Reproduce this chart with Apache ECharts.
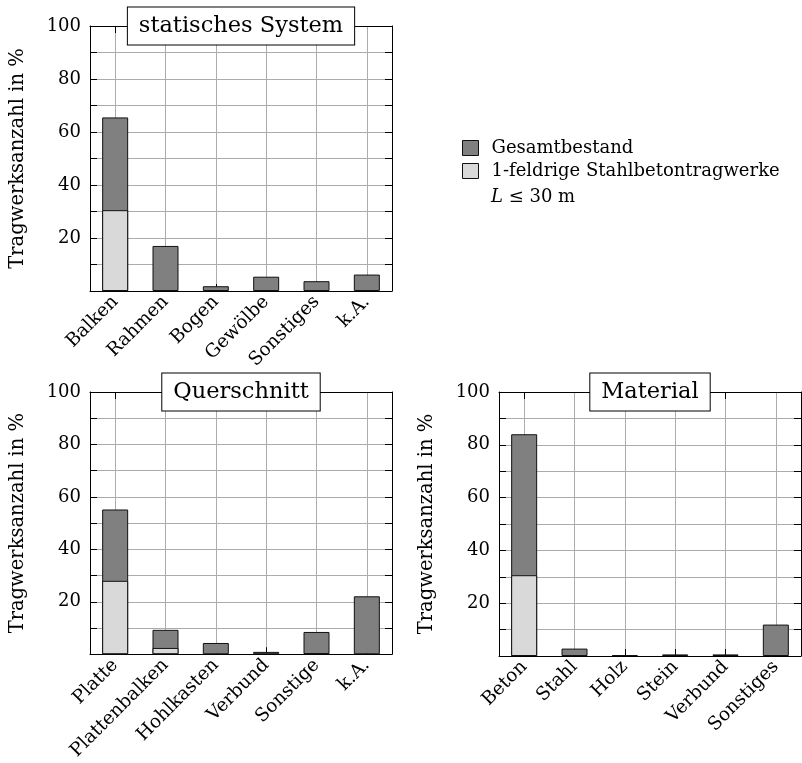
<!DOCTYPE html>
<html>
<head>
<meta charset="utf-8">
<script src="https://cdn.jsdelivr.net/npm/echarts@6/dist/echarts.min.js"></script>
<style>
  html, body { margin: 0; padding: 0; background: #fff; }
  #chart { width: 802px; height: 763px; }
</style>
</head>
<body>
<div id="chart"></div>
<script>
// Bridge inventory shares (% of structures) by structural system, cross-section and material
const systemCategories = ['Balken', 'Rahmen', 'Bogen', 'Gewölbe', 'Sonstiges', 'k.A.'];
const systemTotal      = [65.5, 17.0, 1.8, 5.4, 3.7, 6.2];
const systemSingleSpan = [30.5, null, null, null, null, null];

const sectionCategories = ['Platte', 'Plattenbalken', 'Hohlkasten', 'Verbund', 'Sonstige', 'k.A.'];
const sectionTotal      = [55.2, 9.3, 4.3, 0.9, 8.5, 22.1];
const sectionSingleSpan = [28.0, 2.4, null, null, 0.4, null];

const materialCategories = ['Beton', 'Stahl', 'Holz', 'Stein', 'Verbund', 'Sonstiges'];
const materialTotal      = [84.0, 2.8, 0.3, 0.6, 0.6, 11.9];
const materialSingleSpan = [30.6, null, null, null, null, null];

const panelTitles = ['statisches System', 'Querschnitt', 'Material'];
const yTicks = [20, 40, 60, 80, 100];
const yAxisName = 'Tragwerksanzahl in %';
const nameTotal = 'Gesamtbestand';
const nameSingleSpan = '1-feldrige Stahlbetontragwerke';

const FONT = '"DejaVu Serif", "Liberation Serif", serif';
const DARK = '#808080';
const LIGHT = '#d9d9d9';
const GRID_GRAY = '#ababab';

const panels = [
  { cats: systemCategories,   total: systemTotal,   single: systemSingleSpan,   grid: { left: 90,  top: 26,  width: 302, height: 265 } },
  { cats: sectionCategories,  total: sectionTotal,  single: sectionSingleSpan,  grid: { left: 90,  top: 392, width: 302, height: 264 } },
  { cats: materialCategories, total: materialTotal, single: materialSingleSpan, grid: { left: 499, top: 392, width: 302, height: 264 } }
];

const grids = [], xAxes = [], yAxes = [], series = [], graphics = [];

panels.forEach((p, i) => {
  grids.push(Object.assign({ containLabel: false }, p.grid));

  // bottom category axis with labels and vertical grid lines at category centres
  xAxes.push({
    type: 'category', gridIndex: i, data: p.cats, position: 'bottom',
    axisLine: { show: true, onZero: false, lineStyle: { color: '#000', width: 1 } },
    axisTick: { show: true, inside: true, length: 7, alignWithLabel: true, lineStyle: { color: '#000' } },
    axisLabel: { rotate: 45, margin: 8, fontFamily: FONT, fontSize: 18.5, color: '#000', interval: 0 },
    splitLine: { show: true, alignWithLabel: true, lineStyle: { color: GRID_GRAY, width: 1 } },
    z: 3
  });
  // top frame edge with inward ticks
  xAxes.push({
    type: 'category', gridIndex: i, data: p.cats, position: 'top',
    axisLine: { show: true, onZero: false, lineStyle: { color: '#000', width: 1 } },
    axisTick: { show: true, inside: true, length: 7, alignWithLabel: true, lineStyle: { color: '#000' } },
    axisLabel: { show: false }, splitLine: { show: false }, z: 3
  });
  // left value axis
  yAxes.push({
    type: 'value', gridIndex: i, min: 0, max: 100, interval: 10, position: 'left',
    name: yAxisName, nameLocation: 'middle', nameGap: 62, nameRotate: 90,
    nameTextStyle: { fontFamily: FONT, fontSize: 19.5, color: '#000' },
    axisLine: { show: true, onZero: false, lineStyle: { color: '#000', width: 1 } },
    axisTick: { show: true, inside: true, length: 7, lineStyle: { color: '#000' } },
    axisLabel: {
      margin: 9, fontFamily: FONT, fontSize: 18, color: '#000',
      formatter: v => (yTicks.indexOf(v) >= 0 ? String(v) : '')
    },
    splitLine: { show: true, lineStyle: { color: GRID_GRAY, width: 1 } },
    z: 3
  });
  // right frame edge with inward ticks
  yAxes.push({
    type: 'value', gridIndex: i, min: 0, max: 100, interval: 10, position: 'right',
    axisLine: { show: true, onZero: false, lineStyle: { color: '#000', width: 1 } },
    axisTick: { show: true, inside: true, length: 7, lineStyle: { color: '#000' } },
    axisLabel: { show: false }, splitLine: { show: false }, z: 3
  });

  // total bar with the single-span subset drawn over its lower part
  series.push({
    type: 'bar', name: nameTotal, xAxisIndex: 2 * i, yAxisIndex: 2 * i,
    data: p.total, barWidth: 26, barGap: '-100%',
    itemStyle: { color: DARK, borderColor: '#111', borderWidth: 1 },
    emphasis: { disabled: true }, silent: true, z: 4
  });
  series.push({
    type: 'bar', name: nameSingleSpan, xAxisIndex: 2 * i, yAxisIndex: 2 * i,
    data: p.single, barWidth: 26, barGap: '-100%',
    itemStyle: { color: LIGHT, borderColor: '#111', borderWidth: 1 },
    emphasis: { disabled: true }, silent: true, z: 5
  });

  // boxed panel title centred on the top frame edge
  graphics.push({
    type: 'text', z: 100,
    x: p.grid.left + p.grid.width / 2, y: p.grid.top,
    style: {
      text: panelTitles[i], font: '22.5px ' + FONT, fill: '#000',
      align: 'center', verticalAlign: 'middle',
      backgroundColor: '#fff', borderColor: '#000', borderWidth: 1,
      padding: [7, 11, 7, 11]
    }
  });
});

// second line of the light series' legend entry
graphics.push({
  type: 'text', z: 100, x: 491, y: 197,
  style: {
    rich: { it: { font: 'italic 18px ' + FONT, fill: '#000' },
            n: { font: '18px ' + FONT, fill: '#000' } },
    text: '{it|L}{n| ≤ 30 m}', verticalAlign: 'middle', align: 'left'
  }
});

const chart = echarts.init(document.getElementById('chart'), null, { renderer: 'canvas' });
chart.setOption({
  animation: false,
  backgroundColor: '#fff',
  grid: grids,
  xAxis: xAxes,
  yAxis: yAxes,
  legend: {
    orient: 'vertical', left: 457, top: 134, padding: 5,
    icon: 'rect',
    itemWidth: 16, itemHeight: 15, itemGap: 5,
    data: [nameTotal, nameSingleSpan],
    textStyle: { fontFamily: FONT, fontSize: 18, color: '#000', padding: [0, 0, 0, 8] },
    itemStyle: { borderColor: '#111', borderWidth: 1 },
    selectedMode: false
  },
  series: series,
  graphic: graphics
});
</script>
</body>
</html>
